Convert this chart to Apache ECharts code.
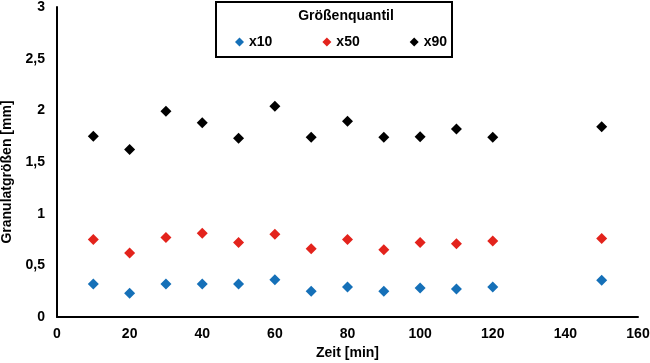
<!DOCTYPE html>
<html>
<head>
<meta charset="utf-8">
<script src="https://cdn.jsdelivr.net/npm/echarts@6/dist/echarts.min.js"></script>
<style>html,body{margin:0;padding:0;background:#fff}#c{width:650px;height:363px}</style>
</head>
<body>
<div id="c"></div>
<script>
const zeit = [10, 20, 30, 40, 50, 60, 70, 80, 90, 100, 110, 120, 150];
const x10 = [0.32, 0.23, 0.32, 0.32, 0.32, 0.36, 0.25, 0.29, 0.25, 0.28, 0.27, 0.29, 0.355];
const x50 = [0.75, 0.62, 0.77, 0.81, 0.72, 0.80, 0.66, 0.75, 0.65, 0.72, 0.71, 0.735, 0.76];
const x90 = [1.75, 1.62, 1.99, 1.88, 1.73, 2.04, 1.74, 1.895, 1.74, 1.745, 1.82, 1.74, 1.84];
const seriesNames = ['x10', 'x50', 'x90'];
const colors = ['#1570b8', '#e3231c', '#000000'];
const legendTitle = 'Größenquantil';
const xTitle = 'Zeit [min]';
const yTitle = 'Granulatgrößen [mm]';

const font = 'Liberation Sans';
const chart = echarts.init(document.getElementById('c'), null, {renderer: 'canvas'});
const mk = (vals) => zeit.map((t, i) => [t, vals[i]]);
const lbl = {fontFamily: font, fontWeight: 'bold', fontSize: 14, color: '#000'};
chart.setOption({
  animation: false,
  textStyle: {fontFamily: font},
  grid: {left: 57, right: 12, top: 7, bottom: 46, outerBoundsMode: 'none', containLabel: false},
  xAxis: {
    type: 'value', min: 0, max: 160, interval: 20,
    name: xTitle, nameLocation: 'middle', nameGap: 27,
    nameTextStyle: lbl,
    axisLine: {lineStyle: {color: '#000', width: 2}},
    axisTick: {show: false},
    splitLine: {show: false},
    axisLabel: Object.assign({margin: 10}, lbl)
  },
  yAxis: {
    type: 'value', min: 0, max: 3, interval: 0.5,
    name: yTitle, nameLocation: 'middle', nameGap: 42, nameRotate: 90,
    nameTextStyle: Object.assign({padding: [0, 20, 0, 0]}, lbl),
    axisLine: {show: true, lineStyle: {color: '#000', width: 2}},
    axisTick: {show: false},
    splitLine: {show: false},
    axisLabel: Object.assign({margin: 12, formatter: v => String(v).replace('.', ',')}, lbl)
  },
  legend: {
    data: seriesNames, left: 235, top: 35, padding: 0,
    itemWidth: 9, itemHeight: 9, itemGap: 50,
    icon: 'diamond',
    textStyle: lbl
  },
  graphic: [
    {type: 'rect', x: 216, y: 2, shape: {width: 236, height: 55},
     style: {fill: 'none', stroke: '#000', lineWidth: 2}, z: 10},
    {type: 'text', x: 346, y: 16,
     style: {text: legendTitle, fontFamily: font, fontWeight: 'bold', fontSize: 14, fill: '#000',
             textAlign: 'center', textVerticalAlign: 'middle'}, z: 10}
  ],
  series: seriesNames.map((n, i) => ({
    name: n, type: 'scatter', symbol: 'diamond', symbolSize: 11,
    itemStyle: {color: colors[i], opacity: 1},
    data: mk([x10, x50, x90][i])
  }))
});
</script>
</body>
</html>
